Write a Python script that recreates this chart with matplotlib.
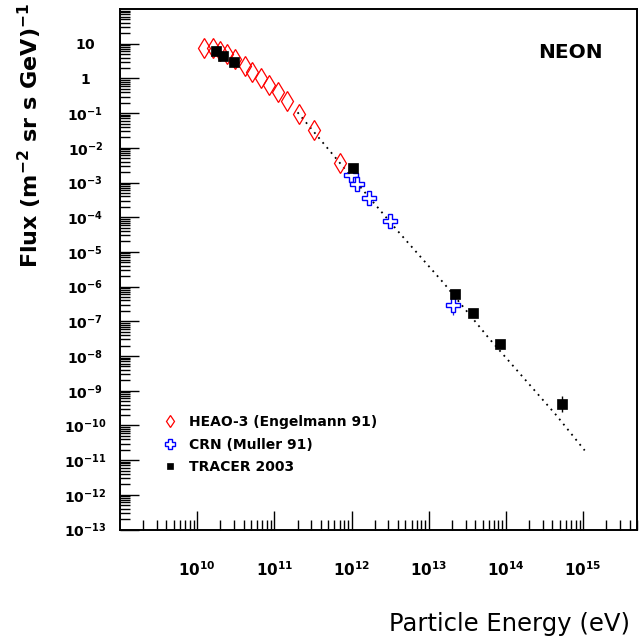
import matplotlib
matplotlib.use("Agg")
import matplotlib.pyplot as plt
from matplotlib.ticker import LogLocator, NullFormatter, FixedLocator, FixedFormatter

# ---- data ----
heao_E = [1.21e10, 1.58e10, 1.97e10, 2.47e10, 3.10e10, 4.15e10, 5.21e10, 6.68e10,
          8.57e10, 1.12e11, 1.48e11, 2.09e11, 3.28e11, 7.05e11]
heao_F = [7.67, 7.46, 6.12, 4.92, 3.70, 2.27, 1.56, 1.00, 0.66, 0.40, 0.219,
          0.0968, 0.0320, 3.66e-3]

crn_E = [9.79e11, 1.19e12, 1.69e12, 3.13e12, 2.09e13]
crn_F = [1.62e-3, 9.3e-4, 3.47e-4, 7.85e-5, 2.95e-7]
crn_F_lo = [1.62e-3, 9.3e-4, 3.47e-4, 7.85e-5, 1.5e-7]
crn_F_hi = [1.62e-3, 9.3e-4, 3.47e-4, 7.85e-5, 5.8e-7]

tracer_E = [1.75e10, 2.19e10, 3.04e10, 1.03e12, 2.20e13, 3.76e13, 8.34e13, 5.4e14]
tracer_F = [6.12, 4.32, 2.90, 2.57e-3, 6.1e-7, 1.70e-7, 2.24e-8, 4.17e-10]
tracer_F_lo = [6.12, 4.32, 2.90, 2.57e-3, 6.1e-7, 1.70e-7, 1.86e-8, 2.45e-10]
tracer_F_hi = [6.12, 4.32, 2.90, 2.57e-3, 6.1e-7, 1.70e-7, 2.69e-8, 7.1e-10]

fit_E = [2.0e11, 7.08e11, 3.98e12, 1.58e13, 6.03e13, 4.47e14, 1.05e15]
fit_F = [0.105, 3.63e-3, 3.98e-5, 1.23e-6, 3.24e-8, 2.0e-10, 1.9e-11]

x_ticks = [1e10, 1e11, 1e12, 1e13, 1e14, 1e15]
x_ticklabels = ["$\\mathbf{10^{10}}$", "$\\mathbf{10^{11}}$", "$\\mathbf{10^{12}}$",
                "$\\mathbf{10^{13}}$", "$\\mathbf{10^{14}}$", "$\\mathbf{10^{15}}$"]
y_ticks = [10, 1] + [10.0 ** -k for k in range(1, 14)]
y_ticklabels = ["$\\mathbf{10}$", "$\\mathbf{1}$"] + \
    ["$\\mathbf{10^{-%d}}$" % k for k in range(1, 14)]

# ---- figure ----
W, H = 640, 639
fig = plt.figure(figsize=(W / 100, H / 100), dpi=100)
plt.rcParams['mathtext.fontset'] = 'dejavusans'
ax = fig.add_axes([120 / W, 1 - 529.5 / H, (637 - 120) / W, (529.5 - 9) / H])
ax.set_xscale('log')
ax.set_yscale('log')
ax.set_xlim(1e9, 5e15)
ax.set_ylim(1e-13, 1e2)

ax.plot(fit_E, fit_F, color='black', lw=1.3, linestyle=(0, (1, 2.6)), zorder=1)

ax.plot(heao_E, heao_F, linestyle='none', marker='d', ms=10, mfc='none',
        mec='red', mew=0.9, zorder=2, label='HEAO-3 (Engelmann 91)')

ax.vlines(crn_E, crn_F_lo, crn_F_hi, color='#2222dd', lw=0.9, zorder=2)
ax.plot(crn_E, crn_F, linestyle='none', marker='P', ms=10.5, mfc='white',
        mec='blue', mew=1.0, zorder=3, label='CRN (Muller 91)')

ax.vlines(tracer_E, tracer_F_lo, tracer_F_hi, color='black', lw=1.0, zorder=4)
ax.plot(tracer_E, tracer_F, linestyle='none', marker='s', ms=7.2, mfc='black',
        mec='black', mew=0.5, zorder=5, label='TRACER 2003')

# ---- axes style ----
for s in ['top', 'right', 'bottom', 'left']:
    ax.spines[s].set_linewidth(1.4)

ax.xaxis.set_major_locator(FixedLocator(x_ticks))
ax.xaxis.set_major_formatter(FixedFormatter(x_ticklabels))
ax.xaxis.set_minor_locator(LogLocator(base=10, subs=range(2, 10), numticks=50))
ax.xaxis.set_minor_formatter(NullFormatter())
ax.yaxis.set_major_locator(FixedLocator(y_ticks))
ax.yaxis.set_major_formatter(FixedFormatter(y_ticklabels))
ax.yaxis.set_minor_locator(LogLocator(base=10, subs=range(2, 10), numticks=50))
ax.yaxis.set_minor_formatter(NullFormatter())

ax.tick_params(axis='x', which='major', direction='in', length=14, width=1.0,
               top=False, pad=22, labelsize=11)
ax.tick_params(axis='x', which='minor', direction='in', length=7, width=1.0, top=False)
ax.tick_params(axis='y', which='major', direction='in', length=14, width=1.0,
               right=False, pad=25, labelsize=10)
ax.tick_params(axis='y', which='minor', direction='in', length=7, width=1.0, right=False)
for lab in ax.get_yticklabels():
    lab.set_ha('center')

fig.text(30 / W, 1 - 135 / H, 'Flux (m$^{\\mathbf{-2}}$ sr s GeV)$^{\\mathbf{-1}}$',
         rotation=90, ha='center', va='center', fontsize=16, fontweight='bold')
fig.text(630 / W, 1 - 624 / H, 'Particle Energy (eV)', ha='right', va='center',
         fontsize=17.5)
ax.text(570 / W, 1 - 52 / H, 'NEON', transform=fig.transFigure, ha='center',
        va='center', fontsize=14.5, fontweight='bold')

ax.legend(loc='upper left', bbox_to_anchor=(163 / W, 1 - 415 / H),
          bbox_transform=fig.transFigure, frameon=False,
          prop={'weight': 'bold', 'size': 10}, handlelength=1.0,
          handletextpad=0.9, labelspacing=0.62, borderpad=0, borderaxespad=0,
          markerscale=0.62)

fig.savefig('out.png', dpi=100)
